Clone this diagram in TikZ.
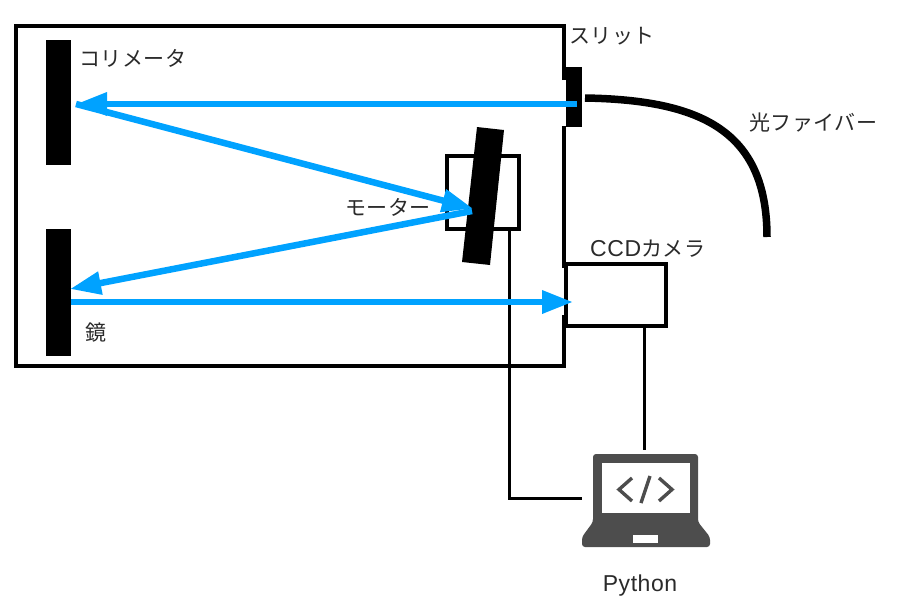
\documentclass[tikz,border=0pt]{standalone}
\usepackage{fontspec}
\usetikzlibrary{arrows.meta}
\newfontfamily\jpfont[LetterSpace=2.5]{Noto Sans CJK JP}
\newfontfamily\lat[LetterSpace=2.5]{Liberation Sans}
\definecolor{beam}{HTML}{00A2FF}
\definecolor{lap}{HTML}{4D4D4D}
\definecolor{ink}{HTML}{2A2A2A}
\tikzset{
  wallline/.style={line width=4pt,black},
  wire/.style={line width=3pt,black},
  beamline/.style={line width=6.5pt,beam,-{Triangle[length=31pt,width=22pt]}},
  plate/.style={fill=black,draw=none,inner sep=0pt,outer sep=0pt},
  framebox/.style={draw=black,line width=4pt,fill=white,inner sep=0pt,outer sep=0pt},
  lbl/.style={anchor=west,inner sep=0pt,text=ink,font=\jpfont\fontsize{21}{24}\selectfont},
  laplbl/.style={anchor=center,inner sep=0pt,text=ink,font=\lat\fontsize{23}{24}\selectfont}
}
\begin{document}
\begin{tikzpicture}[x=1pt,y=-1pt]
\useasboundingbox (0,0) rectangle (898,608);
% housing wall with openings
\draw[wallline,line join=miter] (564,80) -- (564,26) -- (16,26) -- (16,366) -- (564,366) -- (564,315);
\draw[wallline] (564,126) -- (564,268);
% mirrors
\node[plate,minimum width=25pt,minimum height=125pt] (colli) at (58.5,102.5) {};
\node[plate,minimum width=25pt,minimum height=127pt] (mirror) at (58.5,292.5) {};
% slit
\node[plate,minimum width=16pt,minimum height=60pt] (slit) at (574,97) {};
% motor box
\node[framebox,minimum width=72pt,minimum height=73pt] (motor) at (483,192.5) {};
% camera
\node[framebox,minimum width=100pt,minimum height=62pt] (camera) at (616,295) {};
% grating
\fill[black] (477,127) -- (504,130) -- (490,265) -- (462,262) -- cycle;
% fibre
\coordinate (fibA) at (585,98);
\coordinate (fibB) at (767,237);
\draw[line width=7.5pt,black] (fibA) .. controls (700,100) and (767,130) .. (fibB);
% laptop
\fill[lap,rounded corners=3pt] (593,522) -- (593,454) -- (698,454) -- (698,522) -- (710,537) -- (710,547) -- (582,547) -- (582,537) -- cycle;
\fill[white] (602,463) rectangle (690,513);
\fill[white] (633,535) rectangle (658,543);
\draw[lap,line width=3.4pt] (632,478) -- (619,489.5) -- (632,501);
\draw[lap,line width=3.4pt] (659,478) -- (672,489.5) -- (659,501);
\draw[lap,line width=3.4pt] (650,476) -- (641,503);
\coordinate (lapL) at (582,498);
\coordinate (lapT) at (644,450);
% wires
\coordinate (mw) at (509,231);
\coordinate (cw) at (644,328);
\draw[wire] (mw) -- (509,498) -- (lapL);
\draw[wire] (cw) -- (lapT);
% beams
\coordinate (b1) at (577,104);
\coordinate (b2) at (76,104);
\coordinate (b3) at (473,208.5);
\coordinate (b4) at (472,211);
\coordinate (b5) at (70,289);
\coordinate (b6) at (71,302);
\coordinate (b7) at (573,302);
\draw[beamline] (b1) -- (b2);
\draw[beamline] (b2) -- (b3);
\draw[beamline] (b4) -- (b5);
\draw[beamline] (b6) -- (b7);
% labels
\node[lbl] (t1) at (79,58) {コリメータ};
\node[lbl] (t2) at (569,36) {スリット};
\node[lbl] (t3) at (749,123) {光ファイバー};
\node[lbl] (t4) at (345,207) {モーター};
\node[lbl] (t5) at (590,249) {{\lat\fontsize{23}{24}\selectfont CCD}カメラ};
\node[lbl] (t6) at (85,333) {鏡};
\node[laplbl] (t7) at (640,586) {Python};
\end{tikzpicture}
\end{document}
